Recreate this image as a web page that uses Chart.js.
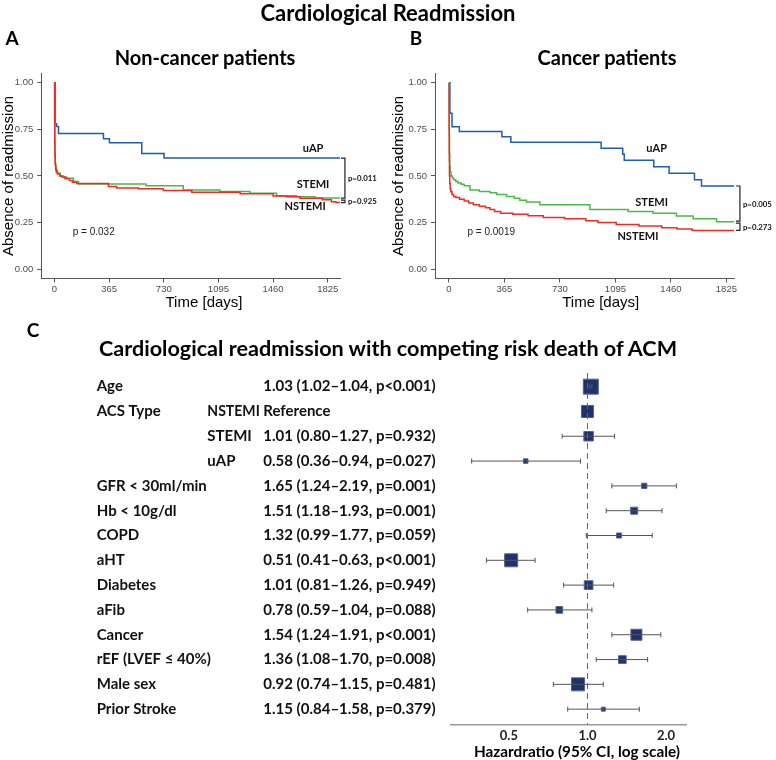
<!DOCTYPE html>
<html><head><meta charset="utf-8">
<script src="https://cdn.jsdelivr.net/npm/chart.js@4.4.1/dist/chart.umd.min.js"></script>
<style>
html,body{margin:0;padding:0;background:#fff}
body{position:relative;width:776px;height:760px;overflow:hidden}
canvas{position:absolute}
.h{position:absolute;transform:translate(-50%,-50%);white-space:nowrap;font-family:Lato,'Open Sans',sans-serif;font-weight:700;color:#000;line-height:1}
</style></head><body>
<canvas id="ca" width="380" height="320" style="left:0;top:0"></canvas>
<canvas id="cb" width="386" height="320" style="left:390px;top:0"></canvas>
<canvas id="cc" width="776" height="440" style="left:0;top:320px"></canvas>
<div class="h" style="left:388px;top:13px;font-size:22px">Cardiological Readmission</div>
<div class="h" style="left:12px;top:37px;font-size:19px">A</div>
<div class="h" style="left:416px;top:37px;font-size:19px">B</div>
<div class="h" style="left:205px;top:57px;font-size:20px">Non-cancer patients</div>
<div class="h" style="left:607px;top:57px;font-size:20px">Cancer patients</div>
<div class="h" style="left:33px;top:329px;font-size:19px">C</div>
<div class="h" style="left:388px;top:349px;font-size:21.6px">Cardiological readmission with competing risk death of ACM</div>
<script>
// ---------- Kaplan-Meier data ----------
const xTicks = [0, 365, 730, 1095, 1460, 1825];
const yTicks = [0, 0.25, 0.5, 0.75, 1];

// Panel A: Non-cancer patients
const tA_uAP = [0,5,14,27,327,367,583,732,1907];
const sA_uAP = [1,0.78,0.765,0.727,0.70,0.678,0.621,0.596,0.596];
const tA_STEMI = [0,1,2,3,5,8,12,20,38,60,82,127,160,611,860,1105,1305,1483,1617,1740,1907];
const sA_STEMI = [1,0.80,0.70,0.62,0.57,0.545,0.53,0.515,0.50,0.495,0.488,0.47,0.457,0.447,0.425,0.416,0.407,0.394,0.389,0.382,0.378];
const tA_NSTEMI = [0,1,2,3,5,8,12,20,35,50,70,100,120,150,360,415,560,727,917,1240,1460,1550,1640,1790,1850,1880,1907];
const sA_NSTEMI = [1,0.79,0.68,0.61,0.56,0.535,0.52,0.51,0.50,0.495,0.485,0.475,0.466,0.46,0.443,0.435,0.432,0.422,0.413,0.405,0.392,0.388,0.38,0.372,0.362,0.357,0.357];

// Panel B: Cancer patients
const tB_uAP = [0,6,20,68,348,407,1001,1143,1153,1347,1448,1615,1661,1875];
const sB_uAP = [1,0.836,0.764,0.738,0.71,0.681,0.648,0.617,0.584,0.55,0.514,0.479,0.446,0.446];
const tB_STEMI = [0,1,2,3,5,8,14,22,30,45,60,80,100,138,200,270,313,379,430,466,510,598,927,1179,1343,1496,1606,1760,1875];
const sB_STEMI = [1,0.85,0.72,0.62,0.55,0.52,0.50,0.49,0.48,0.47,0.462,0.455,0.447,0.425,0.416,0.41,0.40,0.39,0.38,0.37,0.36,0.345,0.32,0.31,0.30,0.285,0.27,0.255,0.255];
const tB_NSTEMI = [0,1,2,3,5,8,12,20,30,45,70,100,130,160,200,240,270,300,340,420,520,620,760,900,980,1100,1250,1400,1500,1600,1875];
const sB_NSTEMI = [1,0.75,0.58,0.50,0.46,0.43,0.415,0.40,0.39,0.385,0.375,0.365,0.355,0.345,0.337,0.33,0.32,0.31,0.30,0.295,0.287,0.277,0.27,0.26,0.25,0.24,0.232,0.222,0.215,0.208,0.208];

const pLogrankA = 'p = 0.032', pLogrankB = 'p = 0.0019';
const pPairA = ['p=0.011', 'p=0.925'];
const pPairB = ['p=0.005', 'p=0.273'];

// ---------- Forest plot data ----------
const rowLabels = ['Age','ACS Type','','','GFR < 30ml/min','Hb < 10g/dl','COPD','aHT','Diabetes','aFib','Cancer','rEF (LVEF \u2264 40%)','Male sex','Prior Stroke'];
const subLabels = ['','NSTEMI','STEMI','uAP','','','','','','','','','',''];
const hr     = [1.03,1.00,1.01,0.58,1.65,1.51,1.32,0.51,1.01,0.78,1.54,1.36,0.92,1.15];
const ciLow  = [1.02,null,0.80,0.36,1.24,1.18,0.99,0.41,0.81,0.59,1.24,1.08,0.74,0.84];
const ciHigh = [1.04,null,1.27,0.94,2.19,1.93,1.77,0.63,1.26,1.04,1.91,1.70,1.15,1.58];
const pVal   = ['<0.001',null,'=0.932','=0.027','=0.001','=0.001','=0.059','<0.001','=0.949','=0.088','<0.001','=0.008','=0.481','=0.379'];
const boxWeight = [15,12,9.5,4.5,5.3,7,5,13,8.7,6.7,11,7.7,13,4];
const hrTicks = [0.5, 1, 2];

// ---------- KM charts ----------
const COL = {uAP:'#1f5ea8', STEMI:'#4cb848', NSTEMI:'#ef2b25'};
const kmNotes = {
  id: 'kmNotes',
  afterDraw(chart, args, o) {
    const ctx = chart.ctx, x = chart.scales.x, y = chart.scales.y;
    const last = {};
    chart.data.datasets.forEach(d => { last[d.label] = d.data[d.data.length - 1].y; });
    ctx.save();
    ctx.textAlign = 'center'; ctx.textBaseline = 'middle';
    ctx.fillStyle = '#111';
    ctx.font = '700 11px Lato';
    o.groupLabels.forEach(l => ctx.fillText(l.text, x.getPixelForValue(l.t), y.getPixelForValue(l.v)));
    ctx.font = '10px "Liberation Sans"'; ctx.fillStyle = '#222';
    ctx.fillText(o.pLabel.text, x.getPixelForValue(o.pLabel.t), y.getPixelForValue(o.pLabel.v));
    const bx = x.getPixelForValue(o.bracketT);
    ctx.strokeStyle = '#222'; ctx.lineWidth = 1.2;
    ctx.font = '700 7.8px Lato'; ctx.textAlign = 'left'; ctx.fillStyle = '#111';
    o.brackets.forEach((b, k) => {
      let y1 = y.getPixelForValue(last[b.from]), y2 = y.getPixelForValue(last[b.to]);
      if (k > 0) y1 += 1.5; else y2 -= 0.5;
      ctx.beginPath(); ctx.moveTo(bx - 4, y1); ctx.lineTo(bx, y1); ctx.lineTo(bx, y2); ctx.lineTo(bx - 4, y2); ctx.stroke();
      ctx.fillText(b.text, bx + 3, (y1 + y2) / 2 + 0.5);
    });
    ctx.font = '15px "Liberation Sans"'; ctx.fillStyle = '#000'; ctx.textAlign = 'center';
    ctx.fillText('Time [days]', o.titleX, o.titleY);
    ctx.restore();
  }
};

function series(label, t, s) {
  return { label, data: t.map((tt, i) => ({x: tt, y: s[i]})), borderColor: COL[label], borderWidth: 1.5,
           stepped: true, pointRadius: 0, fill: false, tension: 0 };
}

function kmChart(id, sets, cfg) {
  return new Chart(document.getElementById(id), {
    type: 'line',
    data: { datasets: sets },
    options: {
      responsive: false, animation: false, events: [],
      layout: { padding: { top: 73.4, right: cfg.padRight, left: 0, bottom: 0 } },
      plugins: { legend: {display: false}, tooltip: {enabled: false}, kmNotes: cfg.notes },
      scales: {
        x: { type: 'linear', min: cfg.xmin, max: cfg.xmax,
             afterBuildTicks: s => { s.ticks = xTicks.map(v => ({value: v})); },
             afterFit: s => { s.height = 41.5; },
             ticks: { font: {family: 'Liberation Sans', size: 9.5}, color: '#4d4d4d', padding: 1, maxRotation: 0, autoSkip: false, callback: v => String(v) },
             grid: { drawOnChartArea: false, tickLength: 4, color: '#555' },
             border: { color: '#555', width: 1 } },
        y: { type: 'linear', min: -0.05, max: 1.05,
             afterBuildTicks: s => { s.ticks = yTicks.map(v => ({value: v})); },
             afterFit: s => { s.width = cfg.yWidth; },
             ticks: { font: {family: 'Liberation Sans', size: 9.5}, color: '#4d4d4d', padding: 4, callback: v => Number(v).toFixed(2) },
             grid: { drawOnChartArea: false, tickLength: 4, color: '#555' },
             border: { color: '#555', width: 1 },
             title: { display: true, text: 'Absence of readmission', color: '#000', font: {family: 'Liberation Sans', size: 15}, padding: {top: 0, bottom: 0} } }
      }
    },
    plugins: [kmNotes]
  });
}

kmChart('ca', [series('NSTEMI', tA_NSTEMI, sA_NSTEMI), series('STEMI', tA_STEMI, sA_STEMI), series('uAP', tA_uAP, sA_uAP)], {
  xmin: -88, xmax: 1907, yWidth: 41.3, padRight: 40,
  notes: {
    groupLabels: [{text: 'uAP', t: 1727, v: 0.645}, {text: 'STEMI', t: 1727, v: 0.452}, {text: 'NSTEMI', t: 1674, v: 0.339}],
    pLabel: {text: pLogrankA, t: 262, v: 0.20},
    bracketT: 1940,
    brackets: [{from: 'uAP', to: 'STEMI', text: pPairA[0]}, {from: 'STEMI', to: 'NSTEMI', text: pPairA[1]}],
    titleX: 204, titleY: 303
  }
});
kmChart('cb', [series('NSTEMI', tB_NSTEMI, sB_NSTEMI), series('STEMI', tB_STEMI, sB_STEMI), series('uAP', tB_uAP, sB_uAP)], {
  xmin: -92, xmax: 1875, yWidth: 45, padRight: 42,
  notes: {
    groupLabels: [{text: 'uAP', t: 1366, v: 0.645}, {text: 'STEMI', t: 1333, v: 0.357}, {text: 'NSTEMI', t: 1243, v: 0.173}],
    pLabel: {text: pLogrankB, t: 278, v: 0.20},
    bracketT: 1914,
    brackets: [{from: 'uAP', to: 'STEMI', text: pPairB[0]}, {from: 'STEMI', to: 'NSTEMI', text: pPairB[1]}],
    titleX: 210.7, titleY: 303
  }
});

// ---------- Forest plot ----------
const forestText = {
  id: 'forestText',
  afterDraw(chart, args, o) {
    const ctx = chart.ctx, y = chart.scales.y;
    ctx.save();
    ctx.fillStyle = '#111'; ctx.textBaseline = 'middle'; ctx.textAlign = 'left';
    ctx.font = '700 15px Lato';
    rowLabels.forEach((lab, i) => {
      const py = y.getPixelForValue(i);
      if (lab) ctx.fillText(lab, o.col1, py);
      if (subLabels[i]) ctx.fillText(subLabels[i], o.col2, py, o.col2Width);
      const txt = ciLow[i] == null ? 'Reference'
        : hr[i].toFixed(2) + ' (' + ciLow[i].toFixed(2) + '\u2013' + ciHigh[i].toFixed(2) + ', p' + pVal[i] + ')';
      ctx.fillText(txt, o.col3, py);
    });
    ctx.font = '700 15.3px Lato'; ctx.textAlign = 'center'; ctx.fillStyle = '#000';
    ctx.fillText('Hazardratio (95% CI, log scale)', o.titleX, o.titleY);
    ctx.restore();
  }
};

const forestSets = [];
forestSets.push({ data: [{x: 1, y: -0.55}, {x: 1, y: 13.61}], borderColor: '#666', borderWidth: 1, borderDash: [6, 4], pointRadius: 0 });
const caps = [];
hr.forEach((h, i) => {
  if (ciLow[i] == null) return;
  forestSets.push({ data: [{x: ciLow[i], y: i}, {x: ciHigh[i], y: i}], borderColor: '#555', borderWidth: 1, pointRadius: 0 });
  caps.push({x: ciLow[i], y: i}, {x: ciHigh[i], y: i});
});
forestSets.push({ data: caps, showLine: false, pointStyle: 'line', rotation: 90, pointRadius: 2.5, borderColor: '#555', borderWidth: 1 });
forestSets.push({ data: hr.map((h, i) => ({x: h, y: i})), showLine: false, pointStyle: 'rect',
  pointRadius: boxWeight.map(w => w / Math.SQRT2), backgroundColor: '#1f326e', borderColor: '#56648c', borderWidth: 1 });

new Chart(document.getElementById('cc'), {
  type: 'line',
  data: { datasets: forestSets },
  options: {
    responsive: false, animation: false, events: [],
    layout: { padding: { top: 53, right: 90, left: 451, bottom: 0 } },
    plugins: { legend: {display: false}, tooltip: {enabled: false},
               forestText: { col1: 96.7, col2: 207.3, col2Width: 52.5, col3: 263.3, titleX: 577, titleY: 431.7 } },
    scales: {
      x: { type: 'logarithmic', min: 0.332, max: 2.385,
           afterBuildTicks: s => { s.ticks = hrTicks.map(v => ({value: v})); },
           afterFit: s => { s.height = 35.7; },
           ticks: { font: {family: 'Lato', size: 13, weight: '700'}, color: '#222', padding: 4, maxRotation: 0, autoSkip: false, callback: v => Number(v).toFixed(1) },
           grid: { display: false, drawTicks: false },
           border: { color: '#999', width: 1.5 } },
      y: { type: 'linear', reverse: true, min: -0.55, max: 13.61, display: false }
    }
  },
  plugins: [forestText]
});
</script>
</body></html>
